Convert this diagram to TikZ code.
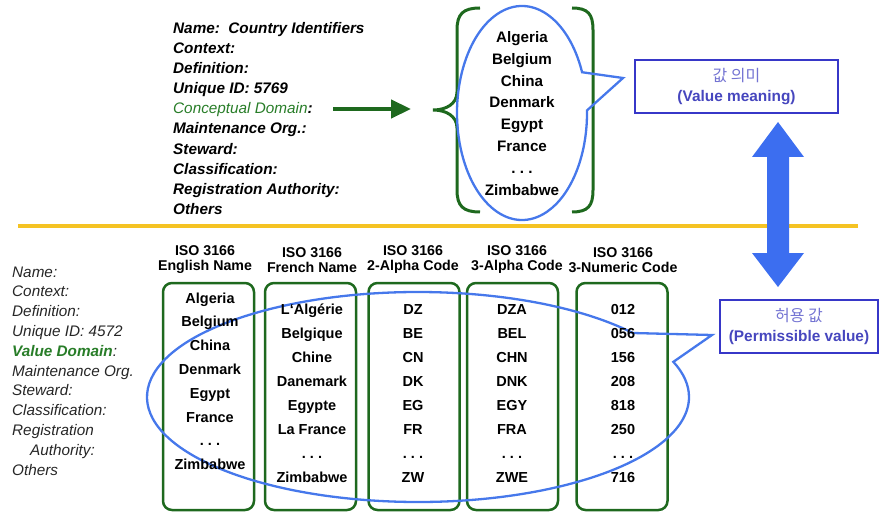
\documentclass[tikz,border=0pt]{standalone}
\usepackage{fontspec}
\setmainfont{Liberation Sans}
\newfontfamily\krfont{Noto Sans CJK KR}
\usetikzlibrary{shapes.callouts,arrows.meta}

\definecolor{dgreen}{RGB}{30,105,30}
\definecolor{cgreen}{RGB}{40,125,40}
\definecolor{eblue}{RGB}{70,120,235}
\definecolor{bblue}{RGB}{55,55,200}
\definecolor{tblue}{RGB}{70,70,190}
\definecolor{kblue}{RGB}{115,115,210}
\definecolor{ablue}{RGB}{60,110,240}
\definecolor{gold}{RGB}{245,195,35}

\begin{document}
\begin{tikzpicture}[x=1pt,y=-1pt,
 toplab/.style={anchor=base west, font=\fontsize{15.3}{17}\selectfont\bfseries\itshape, inner sep=0},
 botlab/.style={anchor=base west, font=\fontsize{15.3}{17}\selectfont\itshape, text=black!85, inner sep=0},
 item/.style={anchor=base, font=\fontsize{14.5}{16}\selectfont\bfseries, inner sep=0},
 topitem/.style={anchor=base, font=\fontsize{15.2}{17}\selectfont\bfseries, inner sep=0},
 hdr/.style={align=center, font=\fontsize{14.2}{15}\selectfont\bfseries, inner sep=0},
 colbox/.style={draw=dgreen, line width=2.5pt, rounded corners=9pt, minimum width=91pt, minimum height=227pt, inner sep=0},
 callbubble/.style={ellipse callout, draw=eblue, line width=2.3pt, inner sep=0},
 termbox/.style={draw=bblue, line width=2.8pt, inner sep=0, align=center, font=\fontsize{15.4}{20}\selectfont},
 bracepath/.style={draw=dgreen, line width=3pt}
]
\useasboundingbox (0,0) rectangle (880,513);

% yellow separator
\coordinate (ys) at (18,226);
\coordinate (ye) at (858,226);
\draw[gold, line width=3.2pt] (ys) -- (ye);

% ---------- top part ----------
\foreach \t [count=\i from 0] in {Name:\ \ Country Identifiers, Context:, Definition:, Unique ID: 5769, {}, Maintenance Org.:, Steward:, Classification:, Registration Authority:, Others}
  \node[toplab] (tl\i) at (173,33.5+20.1*\i) {\t};
\node[toplab] (cd) at (173,33.5+20.1*4) {\textcolor{cgreen}{\mdseries Conceptual Domain}:};

\coordinate (arrS) at (333,109);
\coordinate (arrE) at (411,109);
\draw[dgreen, line width=4.5pt, -{Triangle[length=20pt,width=18pt]}] (arrS) -- (arrE);

% braces
\path[bracepath] (480,8) .. controls (463,8) and (457,14) .. (457,30) -- (457,92)
  .. controls (457,104) and (446,110) .. (433,110)
  .. controls (446,110) and (457,116) .. (457,128) -- (457,190)
  .. controls (457,206) and (463,212) .. (480,212);
\path[bracepath] (572,8) .. controls (588,8) and (593,14) .. (593,30) -- (593,190)
  .. controls (593,206) and (588,212) .. (572,212);

\node[callbubble, minimum width=130pt, minimum height=214pt,
  callout absolute pointer={(623,78)}, callout pointer arc=21] (vmbub) at (522,113) {};

\foreach \t [count=\i from 0] in {Algeria, Belgium, China, Denmark, Egypt, France, .\ .\ ., Zimbabwe}
  \node[topitem] (tc\i) at (522,42.5+21.8*\i) {\t};

\node[termbox, minimum width=203pt, minimum height=53pt] (vm) at (736.5,86.5)
  {\textcolor{kblue}{\krfont\fontsize{16}{20}\selectfont 값 의미}\\
   \textcolor{tblue}{\bfseries (Value meaning)}};

% double arrow
\fill[ablue] (778,122) -- (804,157) -- (789,157) -- (789,253) -- (804,253) -- (778,287)
  -- (752,253) -- (767,253) -- (767,157) -- (752,157) -- cycle;

% ---------- bottom part ----------
\foreach \t [count=\i from 0] in {Name:, Context:, Definition:, Unique ID: 4572, {}, Maintenance Org., Steward:, Classification:, Registration}
  \node[botlab] (bl\i) at (12,277+19.8*\i) {\t};
\node[botlab] (vd) at (12,277+19.8*4) {\textcolor{cgreen}{\bfseries Value Domain}:};
\node[botlab] (bl9) at (30,277+19.8*9) {Authority:};
\node[botlab] (bl10) at (12,277+19.8*10) {Others};

% headers
\node[hdr] (h1) at (205,260) {ISO 3166\\English Name};
\node[hdr] (h2) at (312,260) {ISO 3166\\French Name};
\node[hdr] (h3) at (413,260) {ISO 3166\\2-Alpha Code};
\node[hdr] (h4) at (517,260) {ISO 3166\\3-Alpha Code};
\node[hdr] (h5) at (623,260) {ISO 3166\\3-Numeric Code};

% column boxes
\node[colbox] (c1) at (208.5,396.5) {};
\node[colbox] (c2) at (310.5,396.5) {};
\node[colbox] (c3) at (414,396.5) {};
\node[colbox] (c4) at (512.5,396.5) {};
\node[colbox] (c5) at (622,396.5) {};

\node[callbubble, minimum width=542pt, minimum height=210pt,
  callout absolute pointer={(712,335)}, callout pointer arc=18] (pvbub) at (418,397) {};

\foreach \t [count=\i from 0] in {Algeria, Belgium, China, Denmark, Egypt, France, .\ .\ ., Zimbabwe}
  \node[item] (a\i) at (210,303+23.8*\i) {\t};
\foreach \t [count=\i from 0] in {L`Algérie, Belgique, Chine, Danemark, Egypte, La France, .\ .\ ., Zimbabwe}
  \node[item] (b\i) at (312,314+24*\i) {\t};
\foreach \t [count=\i from 0] in {DZ, BE, CN, DK, EG, FR, .\ .\ ., ZW}
  \node[item] (d\i) at (413,314+24*\i) {\t};
\foreach \t [count=\i from 0] in {DZA, BEL, CHN, DNK, EGY, FRA, .\ .\ ., ZWE}
  \node[item] (e\i) at (512,314+24*\i) {\t};
\foreach \t [count=\i from 0] in {012, 056, 156, 208, 818, 250, .\ .\ ., 716}
  \node[item] (f\i) at (623,314+24*\i) {\t};

\node[termbox, minimum width=158pt, minimum height=53pt] (pv) at (799,326.5)
  {\textcolor{kblue}{\krfont\fontsize{16}{20}\selectfont 허용 값}\\
   \textcolor{tblue}{\bfseries (Permissible value)}};
\end{tikzpicture}
\end{document}
